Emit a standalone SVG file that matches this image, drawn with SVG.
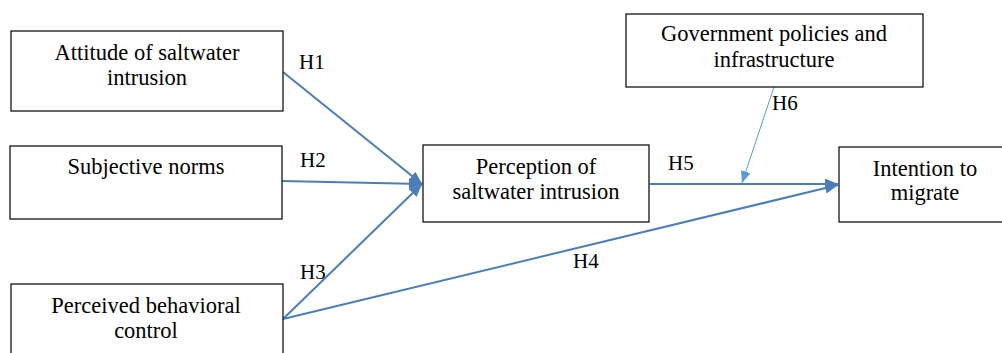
<svg xmlns="http://www.w3.org/2000/svg" width="1002" height="353" viewBox="0 0 1002 353">
<style>
.box{fill:#fff;stroke:#000;stroke-width:1.2}
.t{font-family:'Liberation Serif','Times New Roman',serif;font-size:22.5px;fill:#000;text-anchor:middle}
.l{font-family:'Liberation Serif','Times New Roman',serif;font-size:21px;fill:#000}
.c{fill:none;stroke:#4a7ebb;stroke-width:2}
.c6{fill:none;stroke:#5b9bd5;stroke-width:1}
</style>
<defs>
<marker id="ah" markerUnits="userSpaceOnUse" markerWidth="14" markerHeight="12" refX="13" refY="5.5" orient="auto">
<path d="M0,0 L13,5.5 L0,11 z" fill="#4a7ebb"/>
</marker>
<marker id="ah6" markerUnits="userSpaceOnUse" markerWidth="14" markerHeight="12" refX="12" refY="5" orient="auto">
<path d="M0,0 L12,5 L0,10 z" fill="#5b9bd5"/>
</marker>
</defs>
<rect width="1002" height="353" fill="#fff"/>
<g id="connectors">
<line class="c" x1="283" y1="72" x2="422" y2="184" marker-end="url(#ah)"/>
<line class="c" x1="282" y1="181" x2="422" y2="184" marker-end="url(#ah)"/>
<line class="c" x1="283" y1="319" x2="422" y2="184" marker-end="url(#ah)"/>
<line class="c" x1="283" y1="319" x2="838" y2="185" marker-end="url(#ah)"/>
<line class="c" x1="650" y1="184" x2="838" y2="184" marker-end="url(#ah)"/>
<line class="c6" x1="774" y1="87" x2="742" y2="183" marker-end="url(#ah6)"/>
<text class="l" x="299" y="69">H1</text>
<text class="l" x="300" y="167">H2</text>
<text class="l" x="300" y="279">H3</text>
<text class="l" x="573" y="268">H4</text>
<text class="l" x="668" y="170">H5</text>
<text class="l" x="772" y="110">H6</text>
</g>
<g id="attitude">
<rect class="box" x="11" y="31" width="272" height="80"/>
<text class="t" x="147" y="60">Attitude of saltwater</text>
<text class="t" x="147" y="85">intrusion</text>
</g>
<g id="norms">
<rect class="box" x="10" y="146" width="272" height="73"/>
<text class="t" x="146" y="174">Subjective norms</text>
</g>
<g id="pbc">
<rect class="box" x="11" y="284" width="272" height="80"/>
<text class="t" x="146" y="313">Perceived behavioral</text>
<text class="t" x="146" y="338">control</text>
</g>
<g id="perception">
<rect class="box" x="423" y="145" width="226" height="77"/>
<text class="t" x="536" y="174">Perception of</text>
<text class="t" x="536" y="199">saltwater intrusion</text>
</g>
<g id="government">
<rect class="box" x="626" y="14" width="297" height="73"/>
<text class="t" x="774" y="41">Government policies and</text>
<text class="t" x="774" y="67">infrastructure</text>
</g>
<g id="intention">
<rect class="box" x="839" y="147" width="180" height="75"/>
<text class="t" x="925" y="176">Intention to</text>
<text class="t" x="925" y="200">migrate</text>
</g>
</svg>
